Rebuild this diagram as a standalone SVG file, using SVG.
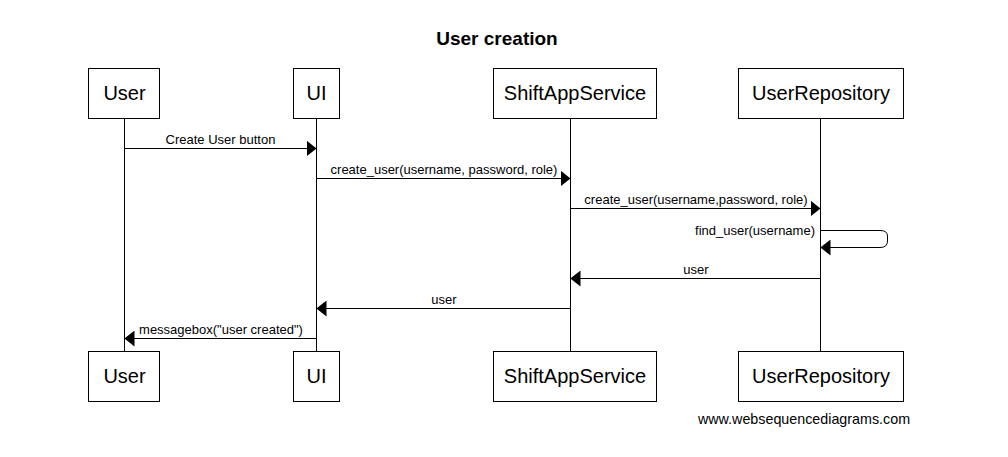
<svg xmlns="http://www.w3.org/2000/svg" width="1008" height="457" viewBox="0 0 1008 457">
<style>
.box{fill:#fff;stroke:#000;stroke-width:1}
.life{stroke:#000;stroke-width:1}
.an{font-family:"Liberation Sans",Arial,sans-serif;font-size:20px;text-anchor:middle;fill:#000}
.msg{stroke:#000;stroke-width:1;fill:none}
.ml{font-family:"Liberation Sans",Arial,sans-serif;font-size:13px;text-anchor:middle;fill:#000}
.mr{font-family:"Liberation Sans",Arial,sans-serif;font-size:13px;text-anchor:end;fill:#000}
</style>
<defs>
<marker id="ah" markerWidth="10" markerHeight="16" refX="10" refY="8" orient="auto" markerUnits="userSpaceOnUse">
<path d="M0,0 L10,8 L0,16 Z" fill="#000"/>
</marker>
</defs>
<rect width="1008" height="457" fill="#fff"/>
<text x="497" y="45" font-family="Liberation Sans,Arial,sans-serif" font-size="19" font-weight="bold" text-anchor="middle">User creation</text>
<g id="lifelines">
<line class="life" x1="124.5" y1="118" x2="124.5" y2="351"/>
<line class="life" x1="316.5" y1="118" x2="316.5" y2="351"/>
<line class="life" x1="570.5" y1="118" x2="570.5" y2="351"/>
<line class="life" x1="820.5" y1="118" x2="820.5" y2="351"/>
</g>
<g id="user-top"><rect class="box" x="88.5" y="68.5" width="71" height="50"/><text class="an" x="124.5" y="100">User</text></g>
<g id="ui-top"><rect class="box" x="293.5" y="68.5" width="46" height="50"/><text class="an" x="316.5" y="100">UI</text></g>
<g id="svc-top"><rect class="box" x="493.5" y="68.5" width="163" height="50"/><text class="an" x="575" y="100">ShiftAppService</text></g>
<g id="repo-top"><rect class="box" x="738.5" y="68.5" width="165" height="50"/><text class="an" x="821" y="100">UserRepository</text></g>
<g id="user-bottom"><rect class="box" x="88.5" y="351.5" width="71" height="50"/><text class="an" x="124.5" y="383">User</text></g>
<g id="ui-bottom"><rect class="box" x="293.5" y="351.5" width="46" height="50"/><text class="an" x="316.5" y="383">UI</text></g>
<g id="svc-bottom"><rect class="box" x="493.5" y="351.5" width="163" height="50"/><text class="an" x="575" y="383">ShiftAppService</text></g>
<g id="repo-bottom"><rect class="box" x="738.5" y="351.5" width="165" height="50"/><text class="an" x="821" y="383">UserRepository</text></g>
<g id="connectors">
<line class="msg" x1="124.5" y1="148.5" x2="316.5" y2="148.5" marker-end="url(#ah)"/>
<text class="ml" x="220.5" y="144">Create User button</text>
<line class="msg" x1="316.5" y1="178.5" x2="570.5" y2="178.5" marker-end="url(#ah)"/>
<text class="ml" x="444" y="174">create_user(username, password, role)</text>
<line class="msg" x1="570.5" y1="208.5" x2="820.5" y2="208.5" marker-end="url(#ah)"/>
<text class="ml" x="696" y="204">create_user(username,password, role)</text>
<path class="msg" d="M820.5,230.5 H880 Q887.5,230.5 887.5,236 V241 Q887.5,247.5 880,247.5 H820.5" marker-end="url(#ah)"/>
<text class="mr" x="815" y="235">find_user(username)</text>
<line class="msg" x1="820.5" y1="278.5" x2="570.5" y2="278.5" marker-end="url(#ah)"/>
<text class="ml" x="696" y="274">user</text>
<line class="msg" x1="570.5" y1="308.5" x2="316.5" y2="308.5" marker-end="url(#ah)"/>
<text class="ml" x="444" y="304">user</text>
<line class="msg" x1="316.5" y1="338.5" x2="124.5" y2="338.5" marker-end="url(#ah)"/>
<text class="ml" x="221" y="334">messagebox("user created")</text>
</g>
<text x="804" y="424" font-family="Liberation Sans,Arial,sans-serif" font-size="14.3" text-anchor="middle">www.websequencediagrams.com</text>
</svg>
